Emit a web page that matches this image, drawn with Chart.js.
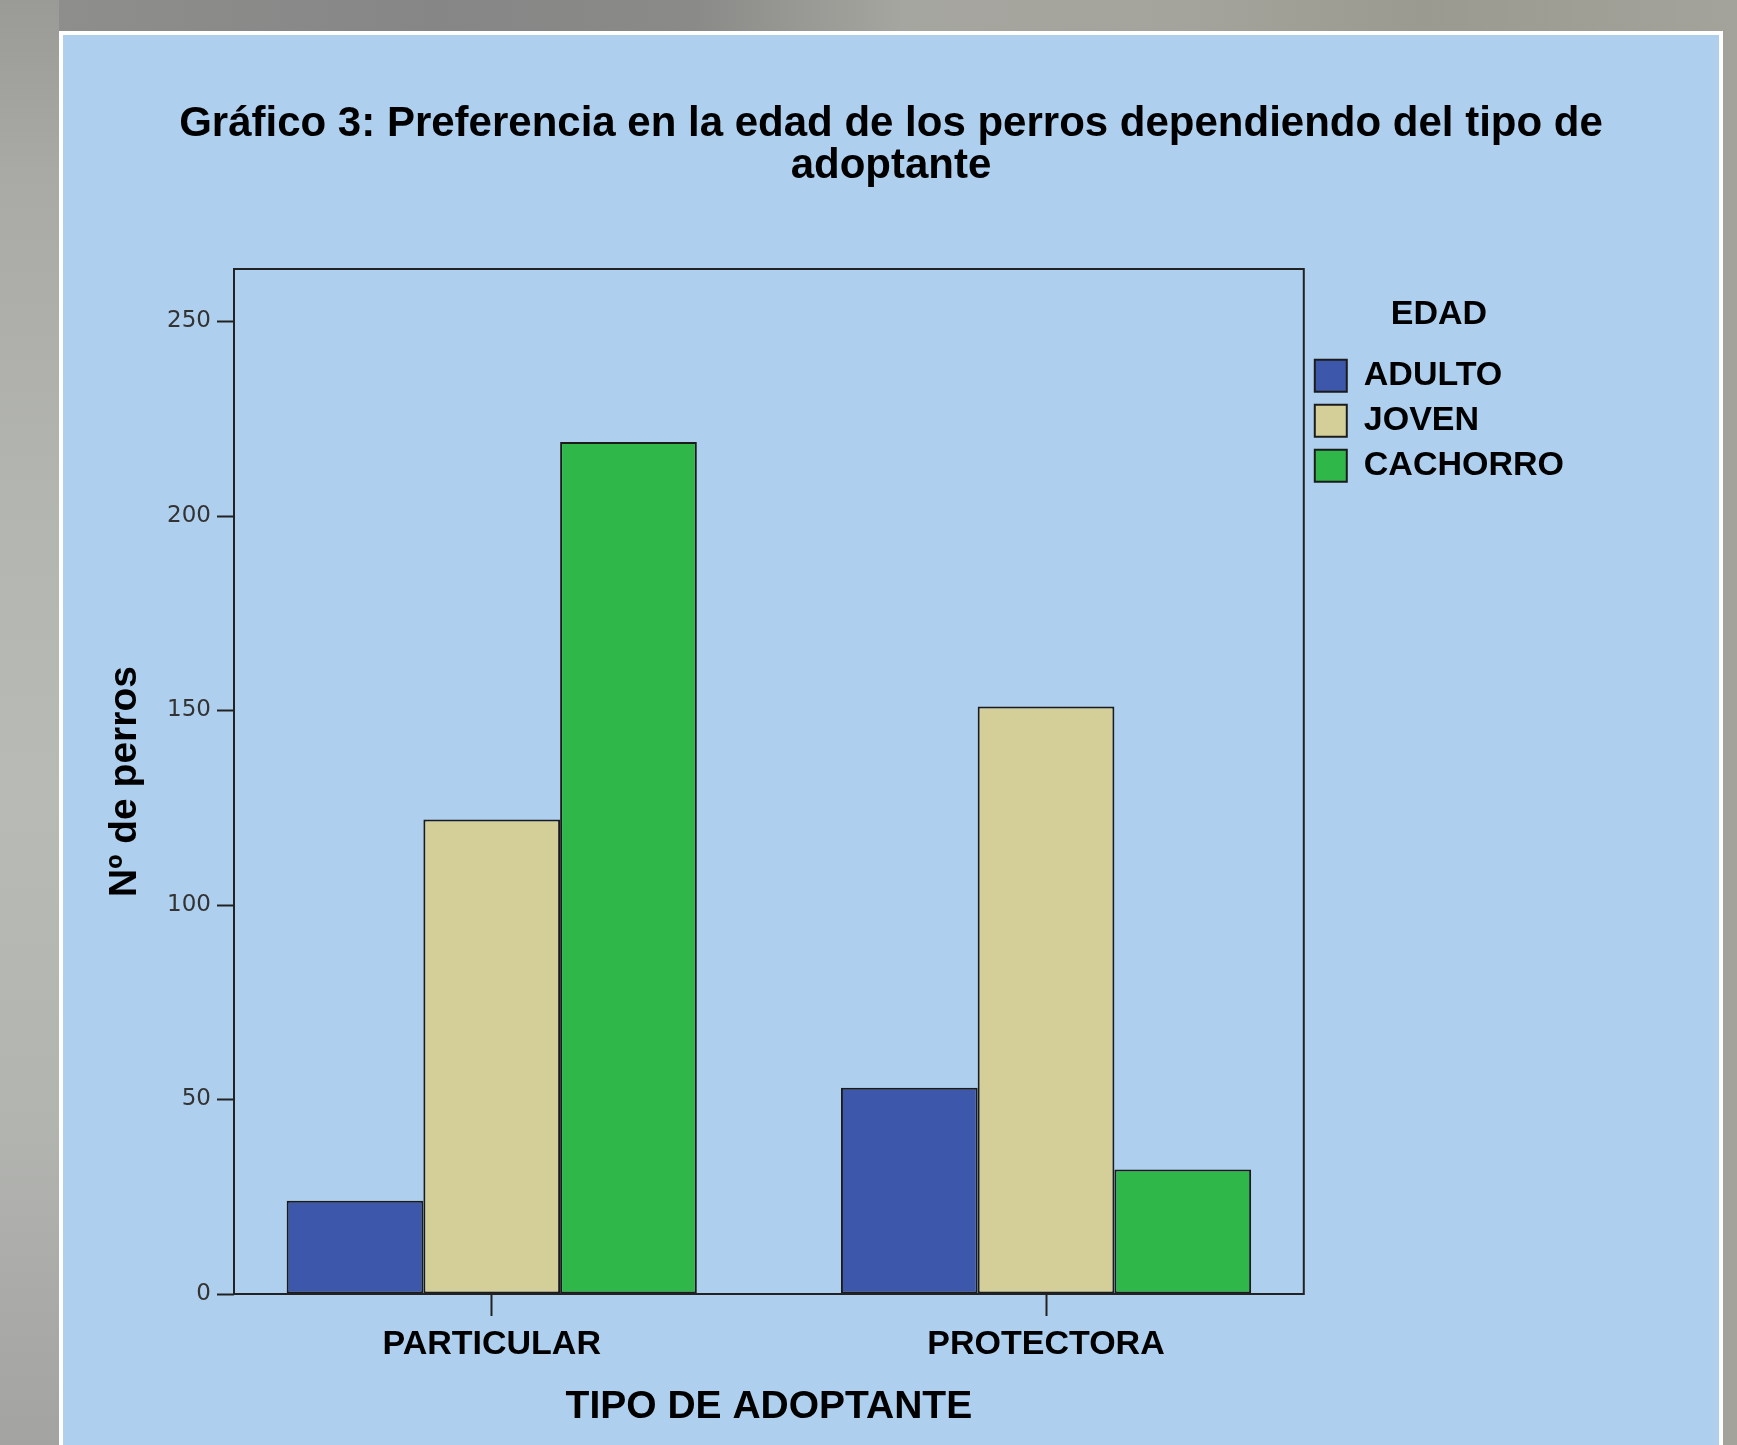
<!DOCTYPE html>
<html><head><meta charset="utf-8">
<script src="https://cdn.jsdelivr.net/npm/chart.js@4.4.1/dist/chart.umd.min.js"></script>
<style>
html,body{margin:0;padding:0;width:1737px;height:1445px;overflow:hidden;}
body{background:linear-gradient(90deg,#8f8f8d 0%,#868686 25%,#8a8a88 40%,#a6a6a0 52%,#a4a49c 68%,#9b9a90 82%,#a4a39b 100%);}
#strip{position:absolute;left:0;top:0;width:59px;height:1445px;background:linear-gradient(180deg,#9a9a96 0%,#a9aaa6 12%,#b3b5b1 35%,#b8bab6 55%,#b2b4b0 78%,#a3a3a1 100%);}
#panel{position:absolute;left:59px;top:31px;width:1664px;height:1440px;box-sizing:border-box;border:4px solid #fff;background:#AECFEE;}
#c{position:absolute;left:0;top:0;}
</style></head>
<body><div id="strip"></div><div id="panel"><canvas id="c" width="1656" height="1410"></canvas></div>
<script>
const titleLines = ['Gráfico 3: Preferencia en la edad de los perros dependiendo del tipo de', 'adoptante'];
const categories = ['PARTICULAR', 'PROTECTORA'];
const seriesNames = ['ADULTO', 'JOVEN', 'CACHORRO'];
const adulto = [24, 53];
const joven = [122, 151];
const cachorro = [219, 32];
const yTicks = [0, 50, 100, 150, 200, 250];
const colors = ['#3D57AB', '#D4CF98', '#30B74A'];

const F = 'Liberation Sans, Arial, sans-serif';
const mk = (label, values, color) => ({
  label,
  data: values.map((v, i) => ({x: i, y: v})),
  xAxisID: 'x', yAxisID: 'y',
  backgroundColor: color,
  borderColor: '#1b1b1b',
  borderWidth: 2,
  borderSkipped: false
});

const framePlugin = {
  id: 'frame',
  afterDatasetsDraw(chart) {
    const a = chart.chartArea, c = chart.ctx;
    c.save();
    c.strokeStyle = '#222';
    c.lineWidth = 2;
    c.strokeRect(a.left, a.top, a.right - a.left, a.bottom - a.top);
    c.restore();
  }
};

new Chart(document.getElementById('c'), {
  type: 'bar',
  data: {datasets: [mk(seriesNames[0], adulto, colors[0]), mk(seriesNames[1], joven, colors[1]), mk(seriesNames[2], cachorro, colors[2])]},
  options: {
    responsive: false, animation: false, devicePixelRatio: 1,
    categoryPercentage: 0.74, barPercentage: 1,
    layout: {padding: {left: 0, right: 0, top: 0, bottom: 14}},
    plugins: {
      title: {display: true, text: titleLines, color: '#000',
        font: {family: F, weight: 'bold', size: 42, lineHeight: 1.0},
        padding: {top: 68, bottom: 82}},
      legend: {position: 'right', align: 'start', fullSize: false,
        title: {display: true, text: 'EDAD', color: '#000',
          font: {family: F, weight: 'bold', size: 34}, padding: {top: 29, bottom: 9}},
        labels: {boxWidth: 32, boxHeight: 32, padding: 11, color: '#000',
          font: {family: F, weight: 'bold', size: 34}}},
      tooltip: {enabled: false}
    },
    scales: {
      x: {type: 'linear', min: -0.465, max: 1.465, offset: false,
        afterBuildTicks: s => { s.ticks = categories.map((c, i) => ({value: i})); },
        afterFit: s => { s.height = 137; },
        ticks: {callback: v => categories[v], color: '#000', padding: 8, autoSkip: false, maxRotation: 0,
          font: {family: F, weight: 'bold', size: 34}},
        grid: {display: true, offset: false, drawOnChartArea: false, drawTicks: true, tickLength: 22, tickWidth: 2, tickColor: '#222'},
        border: {display: false},
        title: {display: true, text: 'TIPO DE ADOPTANTE', color: '#000',
          font: {family: F, weight: 'bold', size: 39}, padding: {top: 21, bottom: 0}}},
      y: {min: 0, max: 263.5,
        afterBuildTicks: s => { s.ticks = yTicks.map(v => ({value: v})); },
        afterFit: s => { s.width = 171; },
        ticks: {color: '#333', padding: 6, font: {family: 'DejaVu Sans', size: 23}},
        grid: {display: true, drawOnChartArea: false, drawTicks: true, tickLength: 17, tickWidth: 2, tickColor: '#222'},
        border: {display: false},
        title: {display: true, text: 'Nº de perros', color: '#000',
          font: {family: F, weight: 'bold', size: 39}, padding: {top: 39, bottom: 22}}},
      pad: {type: 'linear', position: 'right', weight: 2000, display: true,
        afterFit: s => { s.width = 145; },
        ticks: {display: false}, grid: {display: false}, border: {display: false}, title: {display: false}}
    }
  },
  plugins: [framePlugin]
});
</script>
</body></html>
